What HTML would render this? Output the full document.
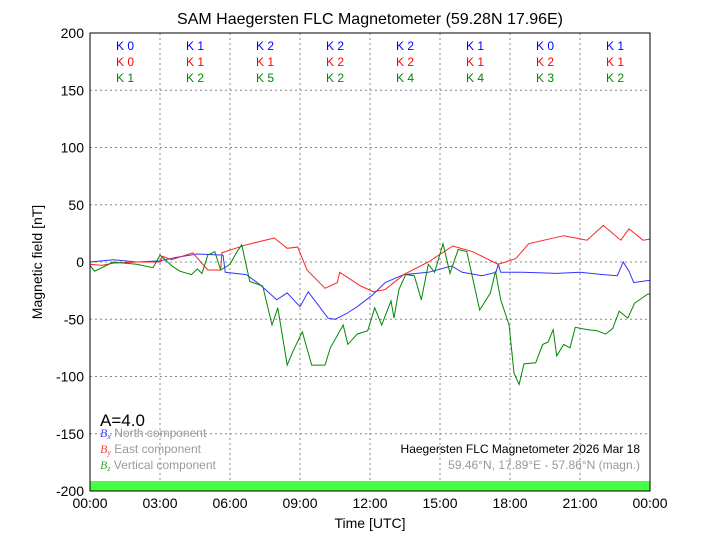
<!DOCTYPE html>
<html><head><meta charset="utf-8"><style>
html,body{margin:0;padding:0;background:#fff;}
svg{display:block;font-family:"Liberation Sans",sans-serif;}
</style></head><body>
<svg id="chart" width="720" height="540" viewBox="0 0 720 540" xmlns="http://www.w3.org/2000/svg">
<rect width="720" height="540" fill="#fff"/>
<text x="370" y="24" font-size="16" text-anchor="middle">SAM Haegersten FLC Magnetometer (59.28N 17.96E)</text>
<g id="grid"></g>
<rect x="90" y="481" width="560" height="10" fill="#44ff44"/>
<g id="series"></g>
<rect x="90" y="33" width="560" height="458" fill="none" stroke="#000" stroke-width="1"/>
<g id="axes"></g>
<g id="kidx"></g>
<text transform="translate(42,262) rotate(-90)" font-size="14" text-anchor="middle">Magnetic field [nT]</text>
<text x="370" y="528" font-size="14" text-anchor="middle">Time [UTC]</text>
<text x="100" y="426" font-size="17">A=4.0</text>
<g font-size="12">
<text x="100" y="437"><tspan fill="#44f" font-family="Liberation Serif" font-style="italic">B<tspan font-size="8" dy="2">x</tspan></tspan><tspan fill="#999" dy="-2"> North component</tspan></text>
<text x="100" y="453"><tspan fill="#f44" font-family="Liberation Serif" font-style="italic">B<tspan font-size="8" dy="2">y</tspan></tspan><tspan fill="#999" dy="-2"> East component</tspan></text>
<text x="100" y="469"><tspan fill="#3a3" font-family="Liberation Serif" font-style="italic">B<tspan font-size="8" dy="2">z</tspan></tspan><tspan fill="#999" dy="-2"> Vertical component</tspan></text>
</g>
<text x="640" y="453" font-size="12" text-anchor="end">Haegersten FLC Magnetometer 2026 Mar 18</text>
<text x="640" y="469" font-size="12" text-anchor="end" fill="#999">59.46°N, 17.89°E - 57.86°N (magn.)</text>
</svg>
<script>
const bxT=[0,1,2,3,3.7,4.6,5.7,5.8,6.7,7.3,8,8.45,9,9.35,10.2,10.5,11,11.45,12.1,12.65,13.45,14.5,15.5,15.95,16.8,17.4,17.5,17.6,18.55,20,21,22,22.6,22.85,23.1,23.3,24];
const bxV=[0,2,0,1,4,7,6,-9,-11,-20,-33,-27,-39,-26,-49,-50,-45,-39,-29,-18,-11,-9,-3.5,-9,-12,-9,-2,-9,-9,-10,-9,-11,-12,0,-8,-18,-16];
const byT=[0,0.5,1,2,3,3.1,3.5,4.4,5.05,5.6,5.65,6.7,7.9,8.45,8.9,9.3,10.07,10.6,10.7,11.6,12.15,12.65,13.45,14.5,15.55,16.4,17.5,18.25,18.8,20.3,21.3,22,22.75,23.1,23.7,24];
const byV=[-2,-3,-1,0,0,5,2,8,-7,-7,8,15,21,12,13,-7,-23,-18,-9,-21,-26,-24,-11,0,14,9,-2,3,16,23,19,32,19,29,19,20];
const bzT=[0,0.2,1,2,2.7,3,3.55,3.85,4.35,4.6,4.8,5.05,5.35,5.6,6,6.3,6.5,6.85,7.4,7.8,8.05,8.45,8.7,9.1,9.5,10.07,10.3,10.85,11.05,11.45,11.9,12.2,12.5,12.9,13.03,13.24,13.53,13.9,14.2,14.5,14.77,15.13,15.43,15.78,16.15,16.7,17.16,17.38,17.6,17.96,18.17,18.39,18.6,19.1,19.4,19.63,19.85,20,20.3,20.57,20.8,21.3,21.73,22.1,22.4,22.68,23.05,23.34,23.9,24];
const bzV=[-3,-8,0,-2,-5,6,-4,-8,-11,-6,-10,6,9,-7,-2,9,15,-17,-21,-55,-40,-90,-78,-61,-90,-90,-75,-55,-72,-63,-60,-40,-55,-34,-49,-24,-11,-12,-33,-2,-9,16,-10,11,9,-42,-27,-8,-33,-55,-97,-107,-89,-88,-72,-70,-59,-82,-72,-75,-57,-59,-60,-63,-58,-43,-49,-36,-28,-28];
const yTicks=[200,150,100,50,0,-50,-100,-150,-200];
const xTicks=["00:00","03:00","06:00","09:00","12:00","15:00","18:00","21:00","00:00"];
const kx=["K 0","K 1","K 2","K 2","K 2","K 1","K 0","K 1"];
const ky=["K 0","K 1","K 1","K 2","K 2","K 1","K 2","K 1"];
const kz=["K 1","K 2","K 5","K 2","K 4","K 4","K 3","K 2"];
const NS="http://www.w3.org/2000/svg";
const X=h=>90+h*560/24, Y=v=>262-v*458/400;
function mk(tag,attrs,parent){const e=document.createElementNS(NS,tag);for(const k in attrs)e.setAttribute(k,attrs[k]);parent.appendChild(e);return e;}
const grid=document.getElementById('grid'),axes=document.getElementById('axes'),ser=document.getElementById('series'),kg=document.getElementById('kidx');
yTicks.forEach(v=>{
  const l=mk('line',{x1:90,x2:650,y1:Y(v),y2:Y(v),stroke:'#888','stroke-dasharray':'2,3','stroke-width':1},grid);
  
  
  const t=mk('text',{x:84,y:Y(v)+5,'font-size':14,'text-anchor':'end'},axes);t.textContent=v;
  
  
});
xTicks.forEach((s,i)=>{
  const x=X(i*3);
  const l=mk('line',{x1:x,x2:x,y1:33,y2:491,stroke:'#888','stroke-dasharray':'2,3','stroke-width':1},grid);
  
  
  const t=mk('text',{x:x,y:508,'font-size':14,'text-anchor':'middle'},axes);t.textContent=s;
  
  
});
[[bxT,bxV,'#33f','series-bx'],[byT,byV,'#f22','series-by'],[bzT,bzV,'#080','series-bz']].forEach(([T,V,c,n])=>{
  const d=T.map((t,i)=>(i?'L':'M')+X(t).toFixed(1)+','+Y(V[i]).toFixed(1)).join('');
  const p=mk('path',{d:d,fill:'none',stroke:c,'stroke-width':1},ser);
  
  
});
[[kx,'#00f',50],[ky,'#f00',66],[kz,'#080',82]].forEach(([arr,c,y])=>{
  arr.forEach((s,i)=>{
    const t=mk('text',{x:X(i*3+1.5),y:y,'font-size':12,'text-anchor':'middle',fill:c},kg);t.textContent=s;
    
    
  });
});
</script>
</body></html>
